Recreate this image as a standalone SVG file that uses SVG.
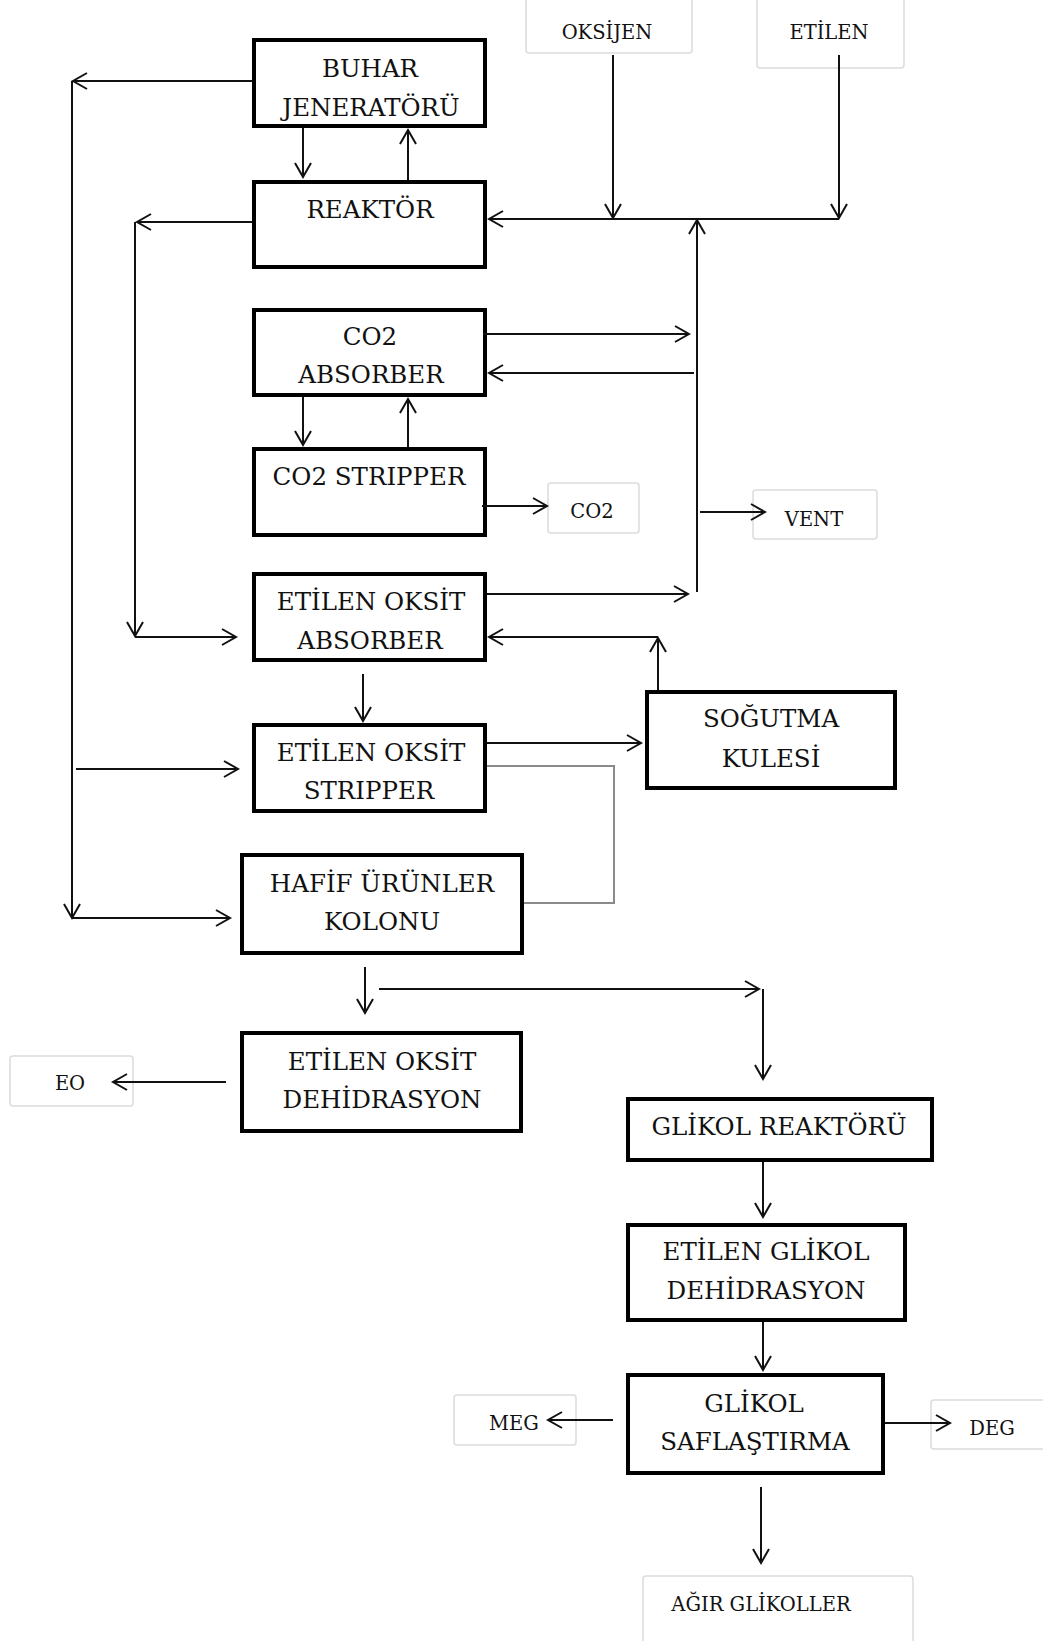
<svg xmlns="http://www.w3.org/2000/svg" width="1043" height="1641" viewBox="0 0 1043 1641">
<style>
.box{fill:#fff;stroke:#000;stroke-width:4}
.lbl{fill:#fff;stroke:#dcdcdc;stroke-width:1.5}
.t{font-family:"DejaVu Serif","Liberation Serif",serif;font-size:24.5px;fill:#111;text-anchor:middle}
.s{font-family:"DejaVu Serif","Liberation Serif",serif;font-size:19.5px;fill:#111;text-anchor:middle}
.c{fill:none;stroke:#111;stroke-width:2}
.a{marker-end:url(#arr)}
.g{fill:none;stroke:#8a8a8a;stroke-width:2}
</style>
<defs>
<marker id="arr" viewBox="0 0 20 20" refX="17" refY="10" markerWidth="20" markerHeight="20" markerUnits="userSpaceOnUse" orient="auto">
<path d="M3,2 L17,10 L3,18" fill="none" stroke="#111" stroke-width="2"/>
</marker>
</defs>
<rect width="1043" height="1641" fill="#fff"/>

<g id="buhar"><rect class="box" x="254" y="40" width="231" height="86"/><text class="t" x="370" y="77">BUHAR</text><text class="t" x="371" y="116">JENERATÖRÜ</text></g>
<g id="reaktor"><rect class="box" x="254" y="182" width="231" height="85"/><text class="t" x="370" y="218">REAKTÖR</text></g>
<g id="co2abs"><rect class="box" x="254" y="310" width="231" height="85"/><text class="t" x="370" y="345">CO2</text><text class="t" x="371" y="383">ABSORBER</text></g>
<g id="co2str"><rect class="box" x="254" y="449" width="231" height="86"/><text class="t" x="369" y="485">CO2 STRIPPER</text></g>
<g id="eoabs"><rect class="box" x="254" y="574" width="231" height="86"/><text class="t" x="371" y="610">ETİLEN OKSİT</text><text class="t" x="370" y="649">ABSORBER</text></g>
<g id="eostr"><rect class="box" x="254" y="725" width="231" height="86"/><text class="t" x="371" y="761">ETİLEN OKSİT</text><text class="t" x="369" y="799">STRIPPER</text></g>
<g id="hafif"><rect class="box" x="242" y="855" width="280" height="98"/><text class="t" x="382" y="892">HAFİF ÜRÜNLER</text><text class="t" x="382" y="930">KOLONU</text></g>
<g id="eodeh"><rect class="box" x="242" y="1033" width="279" height="98"/><text class="t" x="382" y="1070">ETİLEN OKSİT</text><text class="t" x="382" y="1108">DEHİDRASYON</text></g>
<g id="sogutma"><rect class="box" x="647" y="692" width="248" height="96"/><text class="t" x="771" y="727">SOĞUTMA</text><text class="t" x="771" y="767">KULESİ</text></g>
<g id="glikolreaktor"><rect class="box" x="628" y="1099" width="304" height="61"/><text class="t" x="779" y="1135">GLİKOL REAKTÖRÜ</text></g>
<g id="egdeh"><rect class="box" x="628" y="1225" width="277" height="95"/><text class="t" x="766" y="1260">ETİLEN GLİKOL</text><text class="t" x="766" y="1299">DEHİDRASYON</text></g>
<g id="saflastirma"><rect class="box" x="628" y="1375" width="255" height="98"/><text class="t" x="754" y="1412">GLİKOL</text><text class="t" x="755" y="1450">SAFLAŞTIRMA</text></g>

<g id="oksijen"><rect class="lbl" x="526" y="-6" width="166" height="59" rx="3"/><text class="s" x="607" y="39">OKSİJEN</text></g>
<g id="etilen"><rect class="lbl" x="757" y="-6" width="147" height="74" rx="3"/><text class="s" x="829" y="39">ETİLEN</text></g>
<g id="co2"><rect class="lbl" x="548" y="483" width="91" height="50" rx="3"/><text class="s" x="592" y="518">CO2</text></g>
<g id="vent"><rect class="lbl" x="753" y="490" width="124" height="49" rx="3"/><text class="s" x="814" y="526">VENT</text></g>
<g id="eo"><rect class="lbl" x="10" y="1056" width="123" height="50" rx="3"/><text class="s" x="70" y="1090">EO</text></g>
<g id="meg"><rect class="lbl" x="454" y="1395" width="122" height="50" rx="3"/><text class="s" x="514" y="1430">MEG</text></g>
<g id="deg"><rect class="lbl" x="931" y="1400" width="120" height="49" rx="3"/><text class="s" x="992" y="1435">DEG</text></g>
<g id="agir"><rect class="lbl" x="643" y="1576" width="270" height="80" rx="3"/><text class="s" x="761" y="1611">AĞIR GLİKOLLER</text></g>

<g id="connectors">
<path class="c a" d="M252,81 H73"/>
<path class="c a" d="M72,81 V918"/>
<path class="c a" d="M72,918 H230"/>
<path class="c a" d="M76,769 H238"/>
<path class="c a" d="M303,128 V177"/>
<path class="c a" d="M408,180 V130"/>
<path class="c a" d="M252,222 H137"/>
<path class="c a" d="M135,222 V636"/>
<path class="c a" d="M135,637 H236"/>
<path class="c a" d="M613,55 V218"/>
<path class="c a" d="M839,55 V218"/>
<path class="c a" d="M839,219 H489"/>
<path class="c a" d="M697,592 V220"/>
<path class="c a" d="M483,334 H689"/>
<path class="c a" d="M694,373 H489"/>
<path class="c a" d="M303,397 V445"/>
<path class="c a" d="M408,447 V399"/>
<path class="c a" d="M482,506 H547"/>
<path class="c a" d="M700,512 H765"/>
<path class="c a" d="M487,594 H688"/>
<path class="c a" d="M658,690 V638"/>
<path class="c a" d="M658,637 H489"/>
<path class="c a" d="M363,674 V721"/>
<path class="c a" d="M487,743 H641"/>
<path class="g" d="M487,766 H614 V903 H524"/>
<path class="c a" d="M365,967 V1013"/>
<path class="c a" d="M379,989 H759"/>
<path class="c a" d="M763,989 V1079"/>
<path class="c a" d="M226,1082 H113"/>
<path class="c a" d="M763,1162 V1217"/>
<path class="c a" d="M763,1322 V1370"/>
<path class="c a" d="M613,1420 H548"/>
<path class="c a" d="M885,1423 H950"/>
<path class="c a" d="M761,1487 V1563"/>
</g>
</svg>
